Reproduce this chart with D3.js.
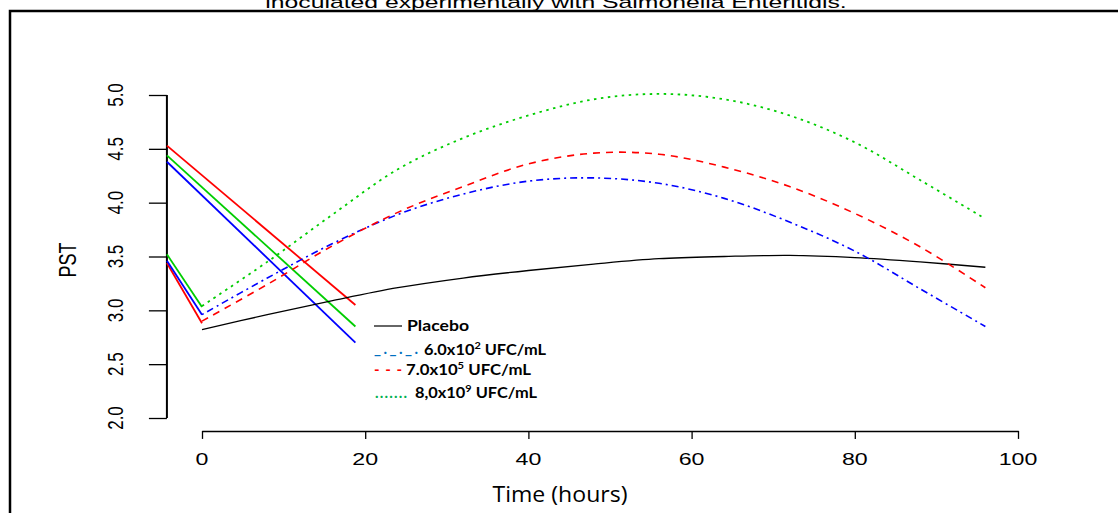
<!DOCTYPE html>
<html>
<head>
<meta charset="utf-8">
<script src="https://cdn.jsdelivr.net/npm/d3@7/dist/d3.min.js"></script>
<style>
  html, body { margin: 0; padding: 0; background: #fff; }
  svg { display: block; }
</style>
</head>
<body>
<div id="chart"></div>
<script>
// hours sampled along the fitted curves
const hours = [0, 8, 16, 24, 32, 40, 48, 56, 64, 72, 80, 88, 96];
const placebo = [2.82, 2.96, 3.09, 3.21, 3.30, 3.37, 3.43, 3.48, 3.50, 3.51, 3.49, 3.45, 3.40];
const dose1 = [2.96, 3.30, 3.62, 3.89, 4.08, 4.20, 4.23, 4.18, 4.04, 3.82, 3.55, 3.20, 2.85];
const dose2 = [2.90, 3.24, 3.60, 3.91, 4.15, 4.36, 4.46, 4.45, 4.33, 4.15, 3.90, 3.59, 3.21];
const dose3 = [3.04, 3.45, 3.89, 4.31, 4.60, 4.81, 4.96, 5.01, 4.96, 4.81, 4.56, 4.21, 3.85];

// straight segments (red, green, blue)
const longHours = [-4.3, 18.8];
const longValues = [[4.53, 3.05], [4.44, 2.85], [4.38, 2.70]];
const dropHours = [-4.3, 0];
const dropValues = [[3.44, 2.88], [3.52, 3.03], [3.46, 2.96]];

const xTicks = [0, 20, 40, 60, 80, 100];
const yTicks = [2.0, 2.5, 3.0, 3.5, 4.0, 4.5, 5.0];

const legendLabels = ["Placebo", "6.0x10", "7.0x10", "8,0x10"];
const legendPowers = [null, "2", "5", "9"];

const width = 1118, height = 513;

var svg = d3.select("#chart").append("svg")
  .attr("width", width)
  .attr("height", height);

var x = d3.scaleLinear().domain([0, 100]).range([202, 1018]);
var y = d3.scaleLinear().domain([2, 5]).range([418, 95]);

// outer frame
svg.append("rect")
  .attr("x", 10).attr("y", 11)
  .attr("width", 1300).attr("height", 700)
  .attr("fill", "none").attr("stroke", "#000").attr("stroke-width", 2.5);

// title (cut off at the top, as in the source image)
svg.append("text")
  .attr("transform", "translate(556,7.5) scale(1.5,1)")
  .attr("text-anchor", "middle")
  .style("font-family", "Liberation Sans, Arial, sans-serif")
  .style("font-size", "16.5px")
  .text("inoculated experimentally with Salmonella Enteritidis.");

// y axis
var yAxis = svg.append("g")
  .attr("transform", "translate(" + x(-4.3) + ",0)")
  .call(d3.axisLeft(y).tickValues(yTicks).tickSize(18).tickFormat(""));
yAxis.select(".domain").attr("d", "M0," + y(2) + "V" + y(5))
  .attr("stroke-width", 2);
yAxis.selectAll(".tick line").attr("stroke-width", 1.3);

svg.selectAll(".ylab")
  .data(yTicks)
  .enter().append("text")
  .attr("class", "ylab")
  .attr("transform", d => "translate(123," + y(d) + ") rotate(-90) scale(1,1.35)")
  .attr("text-anchor", "middle")
  .style("font-family", "Liberation Sans, Arial, sans-serif")
  .style("font-size", "17px")
  .text(d => d.toFixed(1));

svg.append("text")
  .attr("transform", "translate(76,260) rotate(-90) scale(1,1.3)")
  .attr("text-anchor", "middle")
  .style("font-family", "Liberation Sans, Arial, sans-serif")
  .style("font-size", "18px")
  .text("PST");

// x axis
var xAxis = svg.append("g")
  .attr("transform", "translate(0," + y(1.88) + ")")
  .call(d3.axisBottom(x).tickValues(xTicks).tickSize(8).tickSizeOuter(0).tickFormat(""));
xAxis.select(".domain").attr("stroke-width", 1.5);
xAxis.selectAll(".tick line").attr("stroke-width", 1.3);

svg.selectAll(".xlab")
  .data(xTicks)
  .enter().append("text")
  .attr("class", "xlab")
  .attr("transform", d => "translate(" + x(d) + ",465) scale(1.45,1)")
  .attr("text-anchor", "middle")
  .style("font-family", "Liberation Sans, Arial, sans-serif")
  .style("font-size", "16px")
  .text(d => d);

svg.append("text")
  .attr("x", 560).attr("y", 502)
  .attr("text-anchor", "middle")
  .attr("textLength", 135).attr("lengthAdjust", "spacingAndGlyphs")
  .style("font-family", "Open Sans, sans-serif")
  .style("font-size", "21px")
  .text("Time (hours)");

// straight segments
var segColours = ["#ff0000", "#00cd00", "#0000ff"];
var seg = d3.line().x(d => x(d[0])).y(d => y(d[1]));
longValues.forEach(function (v, i) {
  svg.append("path")
    .attr("d", seg(longHours.map((h, j) => [h, v[j]])))
    .attr("fill", "none").attr("stroke", segColours[i]).attr("stroke-width", 1.8);
});
dropValues.forEach(function (v, i) {
  svg.append("path")
    .attr("d", seg(dropHours.map((h, j) => [h, v[j]])))
    .attr("fill", "none").attr("stroke", segColours[i]).attr("stroke-width", 1.8);
});

// fitted curves
var curve = d3.line()
  .x((d, i) => x(hours[i]))
  .y(d => y(d))
  .curve(d3.curveCatmullRom.alpha(0.5));

var series = [
  { values: placebo, colour: "#000", dash: null, w: 1.3 },
  { values: dose1, colour: "#0000ff", dash: "2,4,7,4", w: 1.6 },
  { values: dose2, colour: "#ff0000", dash: "7,6", w: 1.6 },
  { values: dose3, colour: "#00cd00", dash: "2.5,4.5", w: 1.8 }
];
series.forEach(function (s) {
  svg.append("path")
    .attr("d", curve(s.values))
    .attr("fill", "none")
    .attr("stroke", s.colour)
    .attr("stroke-width", s.w)
    .attr("stroke-dasharray", s.dash);
});

// legend (typed-in text box)
svg.append("line")
  .attr("x1", 374).attr("x2", 402).attr("y1", 326).attr("y2", 326)
  .attr("stroke", "#000").attr("stroke-width", 1.2);

var markers = [
  { text: "_._._.", colour: "#0070c0", x: 374, y: 354, len: 44 },
  { text: "- - -", colour: "#ff0000", x: 374, y: 375, len: 28 },
  { text: ".......", colour: "#00b050", x: 375, y: 398, len: 32 }
];
markers.forEach(function (m) {
  svg.append("text")
    .attr("x", m.x).attr("y", m.y)
    .attr("textLength", m.len).attr("lengthAdjust", "spacing")
    .attr("fill", m.colour)
    .style("font-family", "Lato, sans-serif")
    .style("font-weight", "bold")
    .style("font-size", "15px")
    .text(m.text);
});

var legendPos = [[407, 331, 62], [424, 355, 122], [406, 375, 125], [415, 398, 122]];
legendLabels.forEach(function (lab, i) {
  var t = svg.append("text")
    .attr("x", legendPos[i][0]).attr("y", legendPos[i][1])
    .attr("textLength", legendPos[i][2]).attr("lengthAdjust", "spacingAndGlyphs")
    .style("font-family", "Lato, sans-serif")
    .style("font-weight", "bold")
    .style("font-size", "15px");
  t.append("tspan").text(lab);
  if (legendPowers[i]) {
    t.append("tspan").attr("dy", -6).style("font-size", "10px").text(legendPowers[i]);
    t.append("tspan").attr("dy", 6).text(" UFC/mL");
  }
});
</script>
</body>
</html>
